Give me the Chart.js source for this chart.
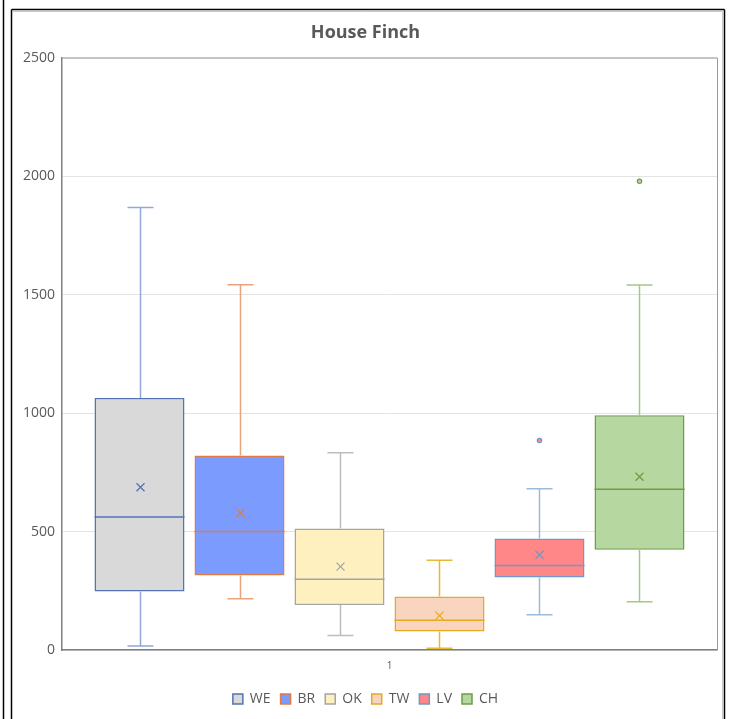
<!DOCTYPE html>
<html>
<head>
<meta charset="utf-8">
<title>House Finch</title>
<script src="https://cdn.jsdelivr.net/npm/chart.js@4"></script>
<style>
  body { margin: 0; background: #fff; overflow: hidden; }
  canvas { display: block; }
</style>
</head>
<body>
<canvas id="finchChart" width="731" height="719"></canvas>
<script>
// box plot stats per site
const sites = ["WE", "BR", "OK", "TW", "LV", "CH"];
const mins = [17, 216, 61, 7, 149, 204];
const q1s = [247, 314, 190, 78, 306, 423];
const medians = [561, 500, 299, 126, 357, 678];
const q3s = [1063, 821, 513, 226, 471, 991];
const maxes = [1867, 1541, 832, 379, 681, 1540];
const means = [687, 578, 352, 145, 402, 731];
const outliers = [[], [], [], [], [884], [1978]];
const categories = ["1"];
const yTicks = [0, 500, 1000, 1500, 2000, 2500];

const fills = ["#d9d9d9", "#7b9bff", "#fff0bf", "#f9d5bf", "#ff8787", "#b6d7a0"];
const borders = ["#5472b4", "#e07b45", "#a5a5a5", "#e3aa22", "#7098c8", "#6c9e47"];
const whiskerColors = ["#8ea8d8", "#e9a47e", "#bdbdbd", "#e8b936", "#9cb9de", "#a3c98a"];

const FONT = "'Open Sans', 'DejaVu Sans', sans-serif";
const GREY = "#595959";

document.addEventListener("DOMContentLoaded", function () {
    const ctx = document.getElementById("finchChart").getContext("2d");

    // outer frame of the screenshot + plot area border
    const framePlugin = {
        id: "frame",
        beforeDraw(chart) {
            const c = chart.ctx;
            c.save();
            c.fillStyle = "#fff";
            c.fillRect(0, 0, chart.width, chart.height);
            c.strokeStyle = "#000";
            c.lineWidth = 1.5;
            c.beginPath();
            c.moveTo(3.5, 0); c.lineTo(3.5, chart.height);
            c.moveTo(11.5, 9.5); c.lineTo(11.5, chart.height);
            c.moveTo(11.5, 9.5); c.lineTo(724.5, 9.5);
            c.moveTo(724.5, 9.5); c.lineTo(724.5, chart.height);
            c.stroke();
            c.strokeStyle = "#c8c8c8";
            c.lineWidth = 1;
            c.beginPath();
            c.moveTo(13, 11.5); c.lineTo(722.5, 11.5); c.lineTo(722.5, chart.height);
            c.stroke();
            c.restore();
        },
        afterDraw(chart) {
            const a = chart.chartArea;
            const c = chart.ctx;
            c.save();
            c.strokeStyle = "#9a9a9a";
            c.lineWidth = 1;
            c.beginPath();
            c.moveTo(a.left, a.top + 0.5); c.lineTo(a.right + 0.5, a.top + 0.5); c.lineTo(a.right + 0.5, a.bottom);
            c.stroke();
            c.restore();
        }
    };

    // whiskers, medians, means and outliers on top of the floating bars
    const boxPlugin = {
        id: "boxExtras",
        afterDatasetsDraw(chart) {
            const c = chart.ctx;
            const y = chart.scales.y;
            c.save();
            sites.forEach((s, i) => {
                const bar = chart.getDatasetMeta(i).data[0];
                if (!bar) return;
                const x = Math.round(bar.x) + 0.5;
                const half = bar.width / 2;
                const cap = 13;
                c.lineWidth = 1.5;
                c.strokeStyle = whiskerColors[i];
                c.beginPath();
                c.moveTo(x, y.getPixelForValue(q3s[i])); c.lineTo(x, y.getPixelForValue(maxes[i]));
                c.moveTo(x - cap, y.getPixelForValue(maxes[i])); c.lineTo(x + cap, y.getPixelForValue(maxes[i]));
                c.moveTo(x, y.getPixelForValue(q1s[i])); c.lineTo(x, y.getPixelForValue(mins[i]));
                c.moveTo(x - cap, y.getPixelForValue(mins[i])); c.lineTo(x + cap, y.getPixelForValue(mins[i]));
                c.stroke();

                c.strokeStyle = borders[i];
                c.beginPath();
                const my = y.getPixelForValue(medians[i]);
                c.moveTo(bar.x - half, my); c.lineTo(bar.x + half, my);
                c.stroke();

                const mx = y.getPixelForValue(means[i]);
                c.lineWidth = 1.3;
                c.beginPath();
                c.moveTo(x - 4, mx - 4); c.lineTo(x + 4, mx + 4);
                c.moveTo(x + 4, mx - 4); c.lineTo(x - 4, mx + 4);
                c.stroke();

                outliers[i].forEach(v => {
                    c.beginPath();
                    c.arc(x, y.getPixelForValue(v), 2.2, 0, Math.PI * 2);
                    c.fillStyle = fills[i];
                    c.fill();
                    c.lineWidth = 1.2;
                    c.strokeStyle = borders[i];
                    c.stroke();
                });
            });
            c.restore();
        }
    };

    new Chart(ctx, {
        type: "bar",
        data: {
            labels: categories,
            datasets: sites.map((s, i) => ({
                label: s,
                data: [[q1s[i], q3s[i]]],
                backgroundColor: fills[i],
                borderColor: borders[i],
                borderWidth: 1.5,
                borderSkipped: false,
                categoryPercentage: 0.916,
                barPercentage: 0.9
            }))
        },
        options: {
            responsive: false,
            animation: false,
            layout: { padding: { top: 12, left: 14, right: 14, bottom: 3 } },
            plugins: {
                title: {
                    display: true,
                    text: "House Finch",
                    color: GREY,
                    font: { family: FONT, size: 18, weight: "bold" },
                    padding: { top: 10, bottom: 14 }
                },
                legend: {
                    position: "bottom",
                    labels: {
                        boxWidth: 10,
                        boxHeight: 10,
                        color: GREY,
                        font: { family: FONT, size: 14 },
                        padding: 10
                    }
                },
                tooltip: { enabled: false }
            },
            scales: {
                x: {
                    grid: { display: false, drawTicks: false },
                    border: { color: "#808080", width: 1.5 },
                    ticks: { color: GREY, font: { family: FONT, size: 10 }, padding: 10 },
                    afterFit: scale => { scale.height = 32; }
                },
                y: {
                    min: yTicks[0],
                    max: yTicks[yTicks.length - 1],
                    afterBuildTicks: scale => { scale.ticks = yTicks.map(v => ({ value: v })); },
                    grid: { color: "#e3e3e3", drawTicks: false },
                    border: { color: "#808080", width: 1.5 },
                    ticks: {
                        color: GREY,
                        font: { family: FONT, size: 14 },
                        padding: 7,
                        callback: v => String(v)
                    },
                    afterFit: scale => { scale.width = 48; }
                }
            }
        },
        plugins: [framePlugin, boxPlugin]
    });
});
</script>
</body>
</html>
